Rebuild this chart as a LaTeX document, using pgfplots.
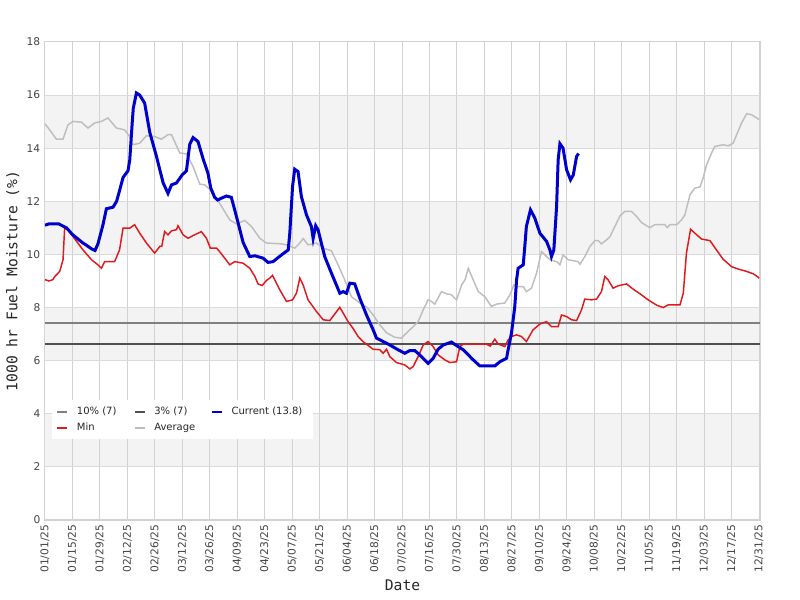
\documentclass[border=0pt]{standalone}
\usepackage{pgfplots}
\pgfplotsset{compat=1.18}
\usepackage{fontspec}
\setmainfont{DejaVu Sans}
\setmonofont{DejaVu Sans Mono}
\definecolor{curblue}{HTML}{0000CC}
\definecolor{minred}{HTML}{E0191E}
\definecolor{avggray}{HTML}{BEBEBE}
\definecolor{tenp}{HTML}{808080}
\definecolor{threep}{HTML}{505050}
\definecolor{band}{HTML}{F3F3F3}
\definecolor{gridc}{HTML}{D2D2D2}
\definecolor{ticktext}{HTML}{444444}
\definecolor{subred}{HTML}{A00000}
\definecolor{titlegray}{HTML}{555555}
\begin{document}
\begin{tikzpicture}
\begin{axis}[
  at={(0pt,0pt)}, anchor=south west,
  scale only axis, width=536.25pt, height=358.5pt,
  xmin=0, xmax=364.5, ymin=0, ymax=18,
  xtick={0,14,...,364},
  xticklabels={01/01/25,01/15/25,01/29/25,02/12/25,02/26/25,03/12/25,03/26/25,04/09/25,04/23/25,05/07/25,05/21/25,06/04/25,06/18/25,07/02/25,07/16/25,07/30/25,08/13/25,08/27/25,09/10/25,09/24/25,10/08/25,10/22/25,11/05/25,11/19/25,12/03/25,12/17/25,12/31/25},
  ytick={0,2,...,18},
  major tick length=0pt,
  axis line style={gridc, line width=0.75pt},
  /pgf/number format/assume math mode=true,
  tick label style={font=\fontsize{8}{9.6}\selectfont, text=ticktext},
  x tick label style={rotate=90, anchor=east},
  xlabel={\texttt{Date}},
  ylabel={\texttt{1000 hr Fuel Moisture (\%)}},
  label style={font=\fontsize{11}{13}\selectfont, text=black!85},
  x label style={at={(axis description cs:0.5,-0.136)}, anchor=center},
  y label style={at={(axis description cs:-0.045,0.5)}, anchor=center},
  legend columns=3,
  legend image code/.code={\draw[#1] (0pt,0pt) -- (7.5pt,0pt);},
  legend style={at={(axis description cs:0.0098,0.251)}, anchor=north west,
    fill=white, draw=none, font=\fontsize{7.5}{9}\selectfont, text=black!85,
    inner xsep=3pt, inner ysep=3pt, row sep=1pt,
    /tikz/every odd column/.append style={column sep=4.5pt}},
  legend cell align=left,
]
% background bands
\addplot[fill=band, draw=none, forget plot] coordinates {(0,2) (364.5,2) (364.5,4) (0,4) (0,2)};
\addplot[fill=band, draw=none, forget plot] coordinates {(0,6) (364.5,6) (364.5,8) (0,8) (0,6)};
\addplot[fill=band, draw=none, forget plot] coordinates {(0,10) (364.5,10) (364.5,12) (0,12) (0,10)};
\addplot[fill=band, draw=none, forget plot] coordinates {(0,14) (364.5,14) (364.5,16) (0,16) (0,14)};
% grid lines
\pgfplotsinvokeforeach{14,28,...,364}{\addplot[gridc, line width=0.75pt, forget plot] coordinates {(#1,0) (#1,18)};}
\pgfplotsinvokeforeach{2,4,...,16}{\addplot[gridc!80, line width=0.75pt, forget plot] coordinates {(0,#1) (364.5,#1)};}

% legend entries
\addlegendimage{tenp, line width=1.5pt}
\addlegendentry{\makebox[40.5pt][l]{10\% (7)}}
\addlegendimage{threep, line width=1.5pt}
\addlegendentry{\makebox[40.5pt][l]{3\% (7)}}
\addlegendimage{curblue, line width=1.5pt}
\addlegendentry{\makebox[56pt][l]{Current (13.8)}}
\addlegendimage{minred, line width=1.5pt}
\addlegendentry{\makebox[40.5pt][l]{Min}}
\addlegendimage{avggray, line width=1.5pt}
\addlegendentry{\makebox[40.5pt][l]{Average}}

% threshold lines
\addplot[tenp, line width=1.5pt, forget plot] coordinates {(0,7.42) (364.5,7.42)};
\addplot[threep, line width=1.5pt, forget plot] coordinates {(0,6.63) (364.5,6.63)};

% Average
\addplot[avggray, line width=1.1pt, forget plot] coordinates {
(0,14.92) (2.4,14.69) (5.8,14.34) (9.2,14.34) (11.7,14.88) (14.3,15.01) (18.6,14.98) (21.9,14.76)
(25.3,14.95) (28.8,15.01) (32.1,15.14) (36.4,14.76) (40.6,14.69) (43.2,14.44) (44.9,14.13) (48.3,14.19)
(51.7,14.47) (55.9,14.44) (59.3,14.34) (62.7,14.51) (64.5,14.51) (68.7,13.82) (72.1,13.79) (75.5,13.31)
(78.9,12.65) (81.4,12.62) (84,12.45) (89,11.93) (94.2,11.30) (97.6,11.15) (101.8,11.28) (105.3,11.05)
(109.5,10.61) (112.9,10.43) (120.5,10.40) (123.1,10.36) (127.3,10.24) (129.9,10.43) (131.6,10.60) (134.1,10.36)
(138.4,10.43) (141.8,10.24) (146,10.14) (149.4,9.61) (152.8,9.04) (156.2,8.41) (160.5,8.17) (164,8.02)
(167.3,7.72) (170.7,7.35) (174.1,7.05) (178.3,6.88) (181.7,6.85) (185.1,7.10) (187.7,7.28) (190.2,7.47)
(192.8,7.91) (195.3,8.29) (197,8.23) (198.7,8.13) (202.1,8.60) (204.7,8.52) (207.2,8.48) (209.8,8.29)
(212.4,8.85) (214.1,9.04) (215.8,9.48) (218.3,9.04) (220.9,8.60) (224.2,8.41) (227.6,8.04) (230.2,8.13)
(234.4,8.17) (237,8.48) (239,8.85) (241.2,8.79) (243.8,8.79) (245.4,8.60) (248,8.73) (250.6,9.30)
(253.1,10.11) (255.7,9.92) (257.4,9.80) (260.8,9.73) (262.5,9.61) (264.1,9.98) (266.7,9.80) (271.8,9.73)
(272.7,9.63) (275.2,9.92) (277.8,10.30) (280.3,10.52) (282,10.52) (283.7,10.40) (286.3,10.55) (288,10.67)
(290.5,11.05) (293.1,11.45) (295.6,11.62) (299,11.62) (301.6,11.43) (304.1,11.20) (306.7,11.08) (308.4,11.01)
(310.9,11.12) (316,11.12) (317.2,11.01) (318.6,11.12) (322,11.12) (324.5,11.30) (326.2,11.49) (328.8,12.25)
(331.3,12.50) (333.9,12.54) (335.5,12.88) (337.3,13.38) (339.8,13.82) (341.5,14.07) (345.7,14.13) (348.3,14.09)
(350.8,14.19) (352.6,14.51) (355.1,14.95) (357.7,15.30) (360.2,15.26) (362.8,15.14) (364,15.08)
};

% Min
\addplot[minred, line width=1.1pt, forget plot] coordinates {
(0,9.05) (2,9.0) (4,9.05) (5,9.17) (7.5,9.36) (9.2,9.8) (10,10.99) (11.7,10.93) (14.3,10.67) (19.4,10.17)
(23.7,9.80) (27,9.61) (28.8,9.48) (30.4,9.73) (35.5,9.73) (38,10.17) (39.8,10.99) (43.2,10.99) (45.7,11.12)
(48.3,10.80) (51.7,10.43) (55.9,10.05) (58.5,10.30) (59.5,10.30) (61,10.86) (62.7,10.74) (64.5,10.89) (67,10.93)
(67.8,11.08) (70.4,10.74) (72.9,10.61) (76.3,10.74) (79.7,10.86) (82.3,10.61) (84.3,10.24) (87.4,10.24) (89,10.11)
(94.2,9.61) (96.7,9.73) (101,9.67) (104.4,9.48) (107,9.17) (108.6,8.89) (110.7,8.83) (112.9,9.02) (114.6,9.11)
(116,9.21) (118,8.92) (119.7,8.67) (123.1,8.23) (126.2,8.29) (128.2,8.54) (129.9,9.11) (131.6,8.85) (134.1,8.29)
(138.4,7.85) (141.8,7.54) (145.2,7.51) (150.3,8.01) (154.5,7.47) (157,7.22) (159.6,6.91) (162.1,6.72) (167.3,6.43)
(170.7,6.41) (172.4,6.28) (174.1,6.43) (175.8,6.15) (179.2,5.93) (183.4,5.84) (186,5.69) (187.7,5.78) (190.2,6.15)
(192.8,6.59) (195.3,6.72) (197.9,6.53) (200.4,6.22) (203.8,6.03) (206.4,5.93) (209.8,5.96) (211.5,6.53) (213.2,6.62)
(225,6.62) (227,6.55) (229.3,6.81) (231,6.63) (234.4,6.53) (236.1,6.78) (237.8,6.91) (240.4,6.97) (242.9,6.91)
(245.4,6.72) (248.8,7.16) (252.3,7.38) (255.7,7.47) (258.2,7.28) (261.6,7.28) (263.3,7.72) (265.9,7.66) (268.4,7.54)
(271,7.51) (273.5,7.91) (275.2,8.32) (278.6,8.29) (281.2,8.32) (283.7,8.60) (285.4,9.17) (287.1,9.04) (289.6,8.73)
(292.2,8.82) (296.5,8.89) (299.9,8.69) (303.3,8.52) (307.5,8.29) (311.8,8.09) (315.2,8.0) (317.7,8.10) (323.7,8.10)
(325.4,8.54) (327,10.05) (329.1,10.95) (331.3,10.80) (334.7,10.58) (339,10.52) (342.3,10.17) (345.7,9.82) (350,9.54)
(353.4,9.45) (357.7,9.36) (361.1,9.27) (363.6,9.14) (364,9.10)
};

% Current
\addplot[curblue, line width=2.25pt, forget plot] coordinates {
(0,11.10) (2,11.15) (7,11.15) (11,11.0) (14,10.75) (19,10.45) (24,10.2) (25.5,10.15) (27,10.4) (29.5,11.1)
(31.3,11.72) (34.7,11.78) (36.5,12.0) (38,12.4) (39.8,12.9) (42.3,13.15) (43.2,13.55) (44.5,15.0) (45,15.5)
(46.6,16.08) (48.3,16.0) (50.8,15.7) (53.4,14.6) (56.8,13.7) (60.2,12.7) (62.7,12.3) (64.5,12.62) (67,12.69)
(70,13.0) (72.1,13.15) (73.8,14.15) (75.5,14.4) (78,14.25) (80.6,13.6) (83.1,13.05) (84.5,12.5) (86.5,12.15)
(88,12.05) (90,12.12) (92.5,12.2) (95,12.15) (97.6,11.43) (101,10.45) (104.4,9.92) (107,9.95) (111.2,9.86)
(113.7,9.70) (116.3,9.73) (120.5,9.98) (124,10.17) (124.8,10.8) (126.2,12.56) (127.3,13.21) (129,13.12)
(130.7,12.18) (133.3,11.49) (135.8,11.05) (136.7,10.6) (138,11.08) (139.2,10.93) (142.6,9.92) (146,9.30)
(150.3,8.54) (152,8.60) (153.7,8.54) (155.4,8.92) (157.9,8.89) (160.5,8.35) (163.9,7.72) (167.3,7.16)
(169,6.85) (172.4,6.72) (175.8,6.59) (180,6.41) (183.4,6.28) (186,6.38) (188.5,6.38) (191,6.22) (195.3,5.90)
(197.9,6.09) (200.4,6.43) (203,6.59) (207.2,6.70) (209.8,6.57) (213.2,6.41) (218.3,6.03) (221.7,5.80)
(229.3,5.80) (231.9,5.96) (235.3,6.09) (236.1,6.41) (237.8,7.03) (239.5,8.04) (240.4,9.04) (241.2,9.48)
(243.8,9.61) (244.6,10.30) (245.4,11.05) (247.5,11.68) (249.7,11.37) (252.3,10.80) (255.7,10.49) (257.4,10.17)
(258.2,9.92) (259.4,10.17) (260.8,11.80) (261.6,13.56) (262.5,14.17) (264.1,14.0) (265.9,13.19) (267.9,12.81)
(269.3,12.99) (271,13.69) (272,13.8)
};

\node[font=\fontsize{9.5}{11}\selectfont, text=titlegray] at (axis description cs:0.4965,1.0649) {SC14 - Central Mojave};
\node[font=\fontsize{7.5}{9}\selectfont, text=subred] at (axis description cs:0.4965,1.0293) {Valid Date: 30-Sep-2025};
\end{axis}
\path[use as bounding box] (-33.75pt,-60pt) rectangle (566.25pt,390pt);
\end{tikzpicture}
\end{document}
